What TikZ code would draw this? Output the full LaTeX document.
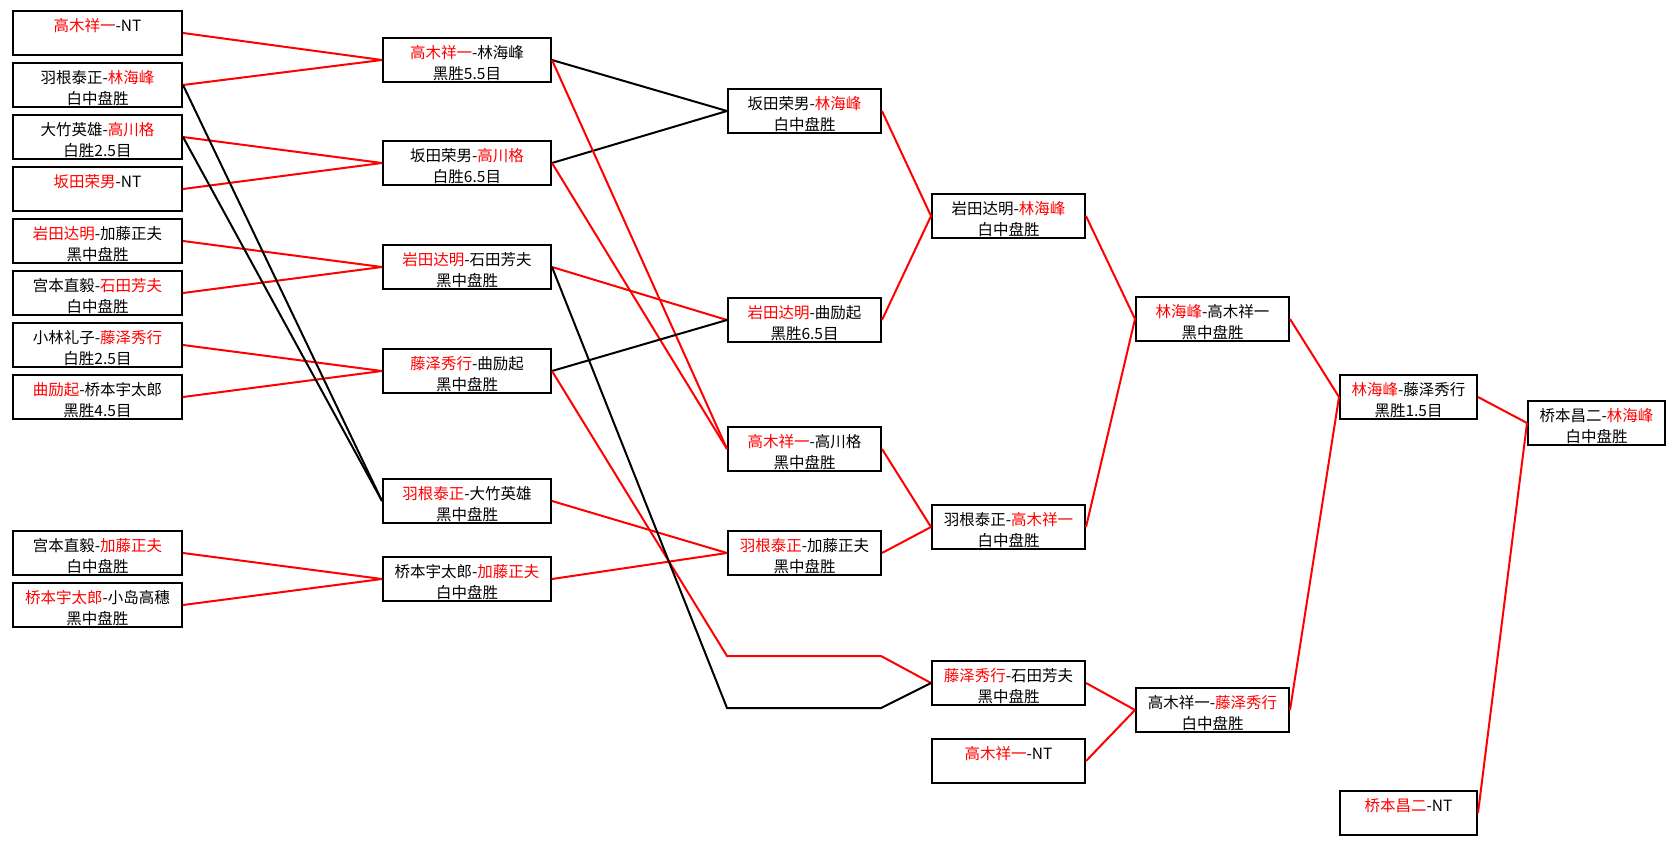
\documentclass[tikz,border=0pt]{standalone}
\usepackage{fontspec}
\newfontfamily\cjk{Noto Sans CJK SC}
\usetikzlibrary{positioning}
\newcommand{\win}[1]{\textcolor{red}{#1}}
\newcommand{\match}[2]{\begin{tabular}[b]{@{}c@{}}#1\\\mbox{}#2\end{tabular}}

\begin{document}
\begin{tikzpicture}[x=1pt,y=-1pt,line width=2pt,
      game/.style={draw,line width=2pt,inner sep=0pt,minimum height=44pt,
        text height=38.4pt,text depth=0pt,anchor=north west,
        font=\cjk\fontsize{15.5}{21}\selectfont},
      col one/.style={game,minimum width=169pt},
      col two/.style={game,minimum width=168pt},
      col mid/.style={game,minimum width=153pt},
      col end/.style={game,minimum width=137pt}]
      \useasboundingbox (0,0) rectangle (1676,845);

      % first round
      \node[col one] (a1) at (12,10) {\match{\win{高木祥一}-NT}{}};
      \node[col one] (a2) [below=6pt of a1] {\match{羽根泰正-\win{林海峰}}{白中盘胜}};
      \node[col one] (a3) [below=6pt of a2] {\match{大竹英雄-\win{高川格}}{白胜2.5目}};
      \node[col one] (a4) [below=6pt of a3] {\match{\win{坂田荣男}-NT}{}};
      \node[col one] (a5) [below=6pt of a4] {\match{\win{岩田达明}-加藤正夫}{黑中盘胜}};
      \node[col one] (a6) [below=6pt of a5] {\match{宫本直毅-\win{石田芳夫}}{白中盘胜}};
      \node[col one] (a7) [below=6pt of a6] {\match{小林礼子-\win{藤泽秀行}}{白胜2.5目}};
      \node[col one] (a8) [below=6pt of a7] {\match{\win{曲励起}-桥本宇太郎}{黑胜4.5目}};
      \node[col one] (a9) [below=110pt of a8] {\match{宫本直毅-\win{加藤正夫}}{白中盘胜}};
      \node[col one] (a10) [below=6pt of a9] {\match{\win{桥本宇太郎}-小岛高穗}{黑中盘胜}};

      % second round
      \node[col two] (b1) at (382,37) {\match{\win{高木祥一}-林海峰}{黑胜5.5目}};
      \node[col two] (b2) at (382,140) {\match{坂田荣男-\win{高川格}}{白胜6.5目}};
      \node[col two] (b3) at (382,244) {\match{\win{岩田达明}-石田芳夫}{黑中盘胜}};
      \node[col two] (b4) at (382,348) {\match{\win{藤泽秀行}-曲励起}{黑中盘胜}};
      \node[col two] (b5) at (382,478) {\match{\win{羽根泰正}-大竹英雄}{黑中盘胜}};
      \node[col two] (b6) at (382,556) {\match{桥本宇太郎-\win{加藤正夫}}{白中盘胜}};

      % third round
      \node[col mid] (c1) at (727,88) {\match{坂田荣男-\win{林海峰}}{白中盘胜}};
      \node[col mid] (c2) at (727,297) {\match{\win{岩田达明}-曲励起}{黑胜6.5目}};
      \node[col mid] (c3) at (727,426) {\match{\win{高木祥一}-高川格}{黑中盘胜}};
      \node[col mid] (c4) at (727,530) {\match{\win{羽根泰正}-加藤正夫}{黑中盘胜}};

      % fourth round
      \node[col mid] (d1) at (931,193) {\match{岩田达明-\win{林海峰}}{白中盘胜}};
      \node[col mid] (d2) at (931,504) {\match{羽根泰正-\win{高木祥一}}{白中盘胜}};
      \node[col mid] (d3) at (931,660) {\match{\win{藤泽秀行}-石田芳夫}{黑中盘胜}};
      \node[col mid] (d4) at (931,738) {\match{\win{高木祥一}-NT}{}};

      % semi-final and final
      \node[col mid] (e1) at (1135,296) {\match{\win{林海峰}-高木祥一}{黑中盘胜}};
      \node[col mid] (e2) at (1135,687) {\match{高木祥一-\win{藤泽秀行}}{白中盘胜}};
      \node[col end] (f1) at (1339,374) {\match{\win{林海峰}-藤泽秀行}{黑胜1.5目}};
      \node[col end] (f2) at (1339,790) {\match{\win{桥本昌二}-NT}{}};
      \node[col end] (g) at (1527,400) {\match{桥本昌二-\win{林海峰}}{白中盘胜}};

      \coordinate (redbend1) at (727,656);
      \coordinate (redbend2) at (881,656);
      \coordinate (blackbend1) at (727,708);
      \coordinate (blackbend2) at (881,708);

      \path
        (a1.east) edge [red] (b1.west)
        (a2.east) edge [red] (b1.west)
        (a3.east) edge [red] (b2.west)
        (a4.east) edge [red] (b2.west)
        (a5.east) edge [red] (b3.west)
        (a6.east) edge [red] (b3.west)
        (a7.east) edge [red] (b4.west)
        (a8.east) edge [red] (b4.west)
        (a9.east) edge [red] (b6.west)
        (a10.east) edge [red] (b6.west)
        (a2.east) edge (b5.west)
        (a3.east) edge (b5.west)

        (b1.east) edge (c1.west)
        (b2.east) edge (c1.west)
        (b1.east) edge [red] (c3.west)
        (b2.east) edge [red] (c3.west)
        (b3.east) edge [red] (c2.west)
        (b4.east) edge (c2.west)
        (b5.east) edge [red] (c4.west)
        (b6.east) edge [red] (c4.west)

        (c1.east) edge [red] (d1.west)
        (c2.east) edge [red] (d1.west)
        (c3.east) edge [red] (d2.west)
        (c4.east) edge [red] (d2.west)

        (d1.east) edge [red] (e1.west)
        (d2.east) edge [red] (e1.west)
        (d3.east) edge [red] (e2.west)
        (d4.east) edge [red] (e2.west)

        (e1.east) edge [red] (f1.west)
        (e2.east) edge [red] (f1.west)
        (f1.east) edge [red] (g.west)
        (f2.east) edge [red] (g.west);

      \draw[red] (b4.east) -- (redbend1) -- (redbend2) -- (d3.west);
      \draw (b3.east) -- (blackbend1) -- (blackbend2) -- (d3.west);
    \end{tikzpicture}
\end{document}
